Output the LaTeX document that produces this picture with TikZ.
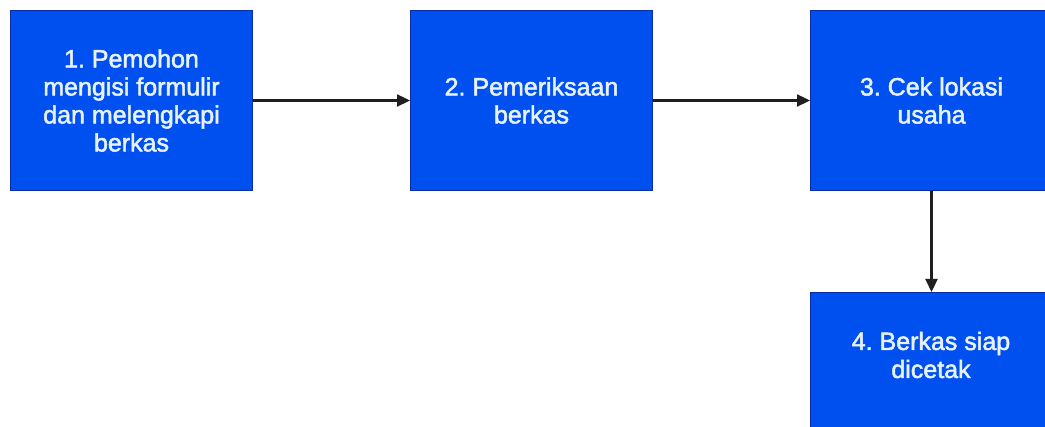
\documentclass[tikz,border=0pt]{standalone}
\usepackage{fontspec}
\setmainfont{Liberation Sans}
\newfontfamily\boxfont{Liberation Sans}[FakeBold=2]
\usetikzlibrary{arrows.meta}
\definecolor{boxblue}{HTML}{0050EF}
\definecolor{boxedge}{HTML}{0A2CA8}
\definecolor{txt}{HTML}{E6F2FF}
\tikzset{
  boxtext/.style={text=txt, align=center, font=\boxfont\frenchspacing\fontsize{25}{28}\selectfont},
  stepbox/.style={draw=boxedge, line width=1pt, fill=boxblue, minimum width=242pt, minimum height=180pt,
    inner sep=0pt, boxtext, anchor=north west},
  flow/.style={draw=black!88, line width=2.3pt, -{Triangle[length=13pt,width=12pt]}}
}
\begin{document}
\begin{tikzpicture}[x=1pt,y=-1pt]
\path[use as bounding box, fill=white] (0,0) rectangle (1045,427);
\begin{scope}
\clip (0,0) rectangle (1045,427);
\node[stepbox] (b1) at (10,10) {1. Pemohon\\mengisi formulir\\dan melengkapi\\berkas};
\node[stepbox] (b2) at (410,10) {2. Pemeriksaan\\berkas};
\node[stepbox] (b3) at (810,10) {3. Cek lokasi\\usaha};
\node[stepbox] (b4) at (810,292) {};
\node[boxtext] (t4) at (931,355) {4. Berkas siap\\dicetak};
\draw[flow] (b1.east) -- (b2.west);
\draw[flow] (b2.east) -- (b3.west);
\draw[flow] (b3.south) -- (b4.north);
\end{scope}
\end{tikzpicture}
\end{document}
